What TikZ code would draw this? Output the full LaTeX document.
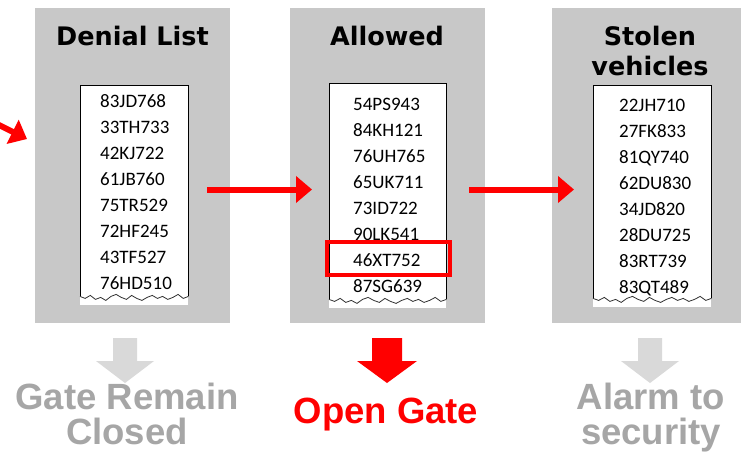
\documentclass[tikz,border=0pt]{standalone}
\usepackage{fontspec}
\usetikzlibrary{arrows.meta,calc}
\newfontfamily\titlefont{DejaVu Sans}
\newfontfamily\listfont{Carlito}
\newfontfamily\bottomfont{Liberation Sans}
\definecolor{panelgray}{RGB}{200,200,200}
\definecolor{arrowgray}{RGB}{217,217,217}
\definecolor{textgray}{RGB}{166,166,166}
\definecolor{pured}{RGB}{255,0,0}
\definecolor{tornline}{RGB}{50,50,50}
\tikzset{
  panel/.style={fill=panelgray, draw=none, inner sep=0pt, anchor=north west},
  listbox/.style={fill=white, draw=none, inner sep=0pt, anchor=north west},
  titletext/.style={font=\titlefont\bfseries\fontsize{25.5}{30}\selectfont, anchor=base, inner sep=0pt},
  entry/.style={font=\listfont\fontsize{19}{23}\selectfont, anchor=base west, inner sep=0pt},
  bottomtext/.style={font=\bottomfont\bfseries\fontsize{36.5}{37}\selectfont, anchor=base, inner sep=0pt},
  flowarrow/.style={draw=pured, line width=6pt, -{Triangle[length=16pt,width=26pt]}},
  highlight/.style={draw=pured, line width=4pt, fill=none, inner sep=0pt, anchor=north west},
}
\newcommand\tornedge[1]{%
  \draw[black, line width=0.8pt] ([yshift=9pt]#1.south west) -- (#1.north west) -- (#1.north east) -- ([yshift=9pt]#1.south east);
  \draw[tornline, line width=0.8pt] ([yshift=9pt]#1.south west)
    \foreach \d [count=\i] in {2,-1,3,1,4,0,-2,1,3,-1,2,4,1,-1,2,0,3,1,-2,2,0}
      { -- ($(#1.south west)!{\i/21}!(#1.south east)+(0,{\d-9})$) };
}
\begin{document}
\begin{tikzpicture}[x=1pt,y=-1pt]
\useasboundingbox (0,0) rectangle (741,453);
\fill[white] (0,0) rectangle (741,453);

% panels
\node[panel, minimum width=195pt, minimum height=315pt] (p1) at (35,8) {};
\node[panel, minimum width=195pt, minimum height=315pt] (p2) at (290,8) {};
\node[panel, minimum width=189pt, minimum height=315pt] (p3) at (552,8) {};

% titles
\node[titletext] (t1) at (132.5,45) {Denial List};
\node[titletext] (t2) at (387,45) {Allowed};
\node[titletext] (t3a) at (650,45) {Stolen};
\node[titletext] (t3b) at (650,75) {vehicles};

% list boxes
\node[listbox, minimum width=108pt, minimum height=220pt] (l1) at (80,85) {};
\node[listbox, minimum width=117pt, minimum height=225pt] (l2) at (329,83) {};
\node[listbox, minimum width=118pt, minimum height=222pt] (l3) at (593,85) {};
\tornedge{l1}
\tornedge{l2}
\tornedge{l3}

% entries
\foreach \txt [count=\i from 0] in {83JD768,33TH733,42KJ722,61JB760,75TR529,72HF245,43TF527,76HD510}
  \node[entry] (da\i) at (100,{107.5+26*\i}) {\txt};
\foreach \txt [count=\i from 0] in {54PS943,84KH121,76UH765,65UK711,73ID722,90LK541,46XT752,87SG639}
  \node[entry] (al\i) at (353,{110.5+26*\i}) {\txt};
\foreach \txt [count=\i from 0] in {22JH710,27FK833,81QY740,62DU830,34JD820,28DU725,83RT739,83QT489}
  \node[entry] (st\i) at (619,{111.5+26*\i}) {\txt};

% highlight
\node[highlight, minimum width=123pt, minimum height=33pt] (hl) at (325,240) {};

% flow arrows
\coordinate (in0) at (-20,115.5);
\coordinate (in1) at (27,139);
\coordinate (a1s) at (207,189.5);
\coordinate (a1e) at (312,189.5);
\coordinate (a2s) at (469,189.5);
\coordinate (a2e) at (574,189.5);
\draw[flowarrow] (in0) -- (in1);
\draw[flowarrow] (a1s) -- (a1e);
\draw[flowarrow] (a2s) -- (a2e);

% down block arrows
\fill[arrowgray] (113,338) -- (137,338) -- (137,361) -- (154,361) -- (125,383) -- (96,361) -- (113,361) -- cycle;
\fill[pured] (372,338) -- (402,338) -- (402,361) -- (417,361) -- (387,383) -- (357,361) -- (372,361) -- cycle;
\fill[arrowgray] (638,338) -- (662,338) -- (662,361) -- (679,361) -- (650,383) -- (621,361) -- (638,361) -- cycle;

% bottom texts
\node[bottomtext, text=textgray] (b1a) at (127,409) {Gate Remain};
\node[bottomtext, text=textgray] (b1b) at (127,444) {Closed};
\node[bottomtext, text=pured] (b2) at (386,423) {Open Gate};
\node[bottomtext, text=textgray] (b3a) at (651,409) {Alarm to};
\node[bottomtext, text=textgray] (b3b) at (651,444) {security};
\end{tikzpicture}
\end{document}
